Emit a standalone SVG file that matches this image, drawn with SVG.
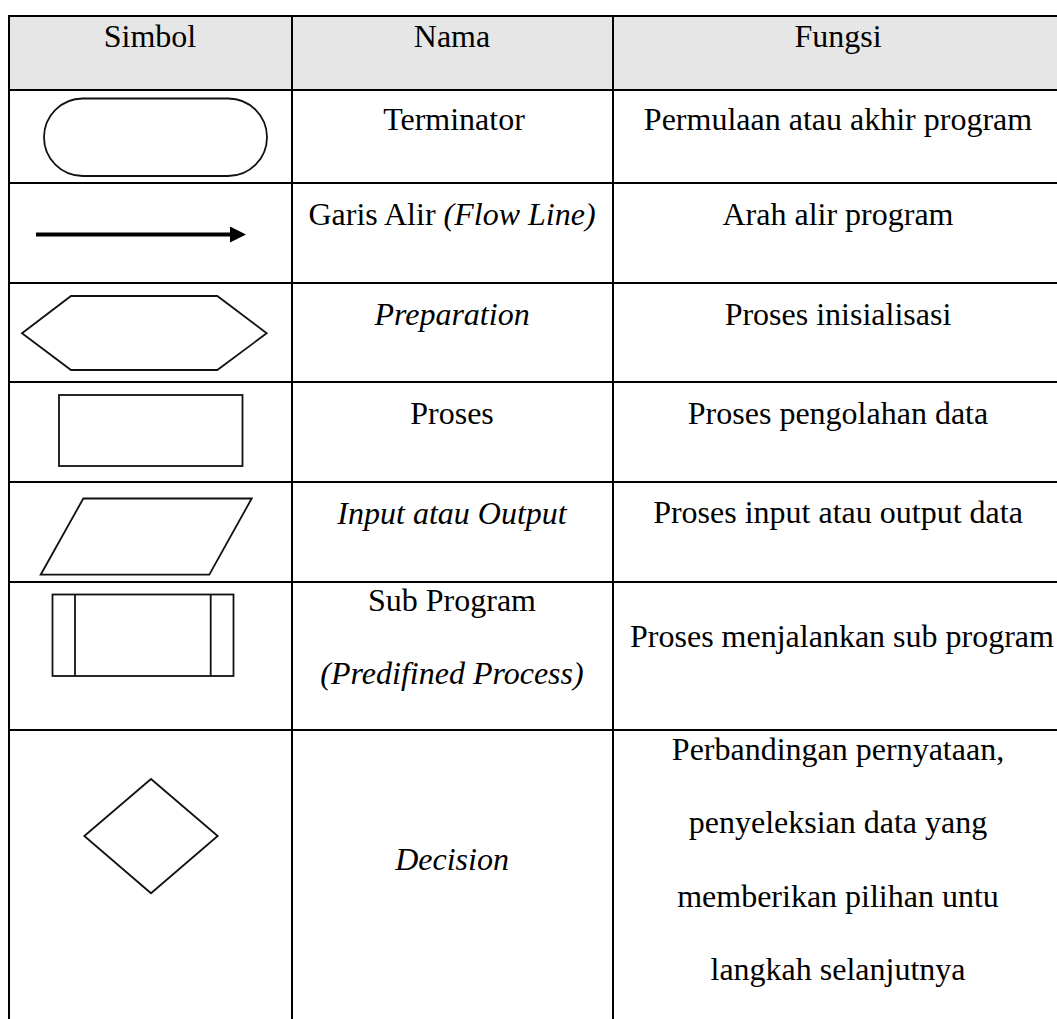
<svg xmlns="http://www.w3.org/2000/svg" width="1057" height="1019" viewBox="0 0 1057 1019">
  <defs>
    <style>
      .grid { stroke: #000; stroke-width: 2; fill: none; }
      .sym { stroke: #111; stroke-width: 1.8; fill: #fff; stroke-linejoin: miter; }
      .txt { font-family: "Liberation Serif", "Times New Roman", serif; font-size: 32px; fill: #000; text-anchor: middle; }
      .it { font-style: italic; }
    </style>
    <marker id="arrowhead" viewBox="0 0 16 16" refX="0" refY="8" markerUnits="userSpaceOnUse" markerWidth="16" markerHeight="16" orient="auto">
      <path d="M0,0 L16,8 L0,16 Z" fill="#000"/>
    </marker>
  </defs>

  <rect width="1057" height="1019" fill="#fff"/>

  <!-- header band -->
  <rect x="9" y="16" width="1060" height="74" fill="#e6e6e6"/>

  <!-- table rules -->
  <g id="table-grid" class="grid">
    <line x1="9" y1="16" x2="1060" y2="16"/>
    <line x1="9" y1="90" x2="1060" y2="90"/>
    <line x1="9" y1="183" x2="1060" y2="183"/>
    <line x1="9" y1="283" x2="1060" y2="283"/>
    <line x1="9" y1="382" x2="1060" y2="382"/>
    <line x1="9" y1="482" x2="1060" y2="482"/>
    <line x1="9" y1="582" x2="1060" y2="582"/>
    <line x1="9" y1="730" x2="1060" y2="730"/>
    <line x1="9" y1="15" x2="9" y2="1020"/>
    <line x1="292" y1="15" x2="292" y2="1020"/>
    <line x1="613" y1="15" x2="613" y2="1020"/>
  </g>

  <!-- header -->
  <g id="header">
    <text class="txt" x="150" y="47">Simbol</text>
    <text class="txt" x="452" y="47">Nama</text>
    <text class="txt" x="838" y="47">Fungsi</text>
  </g>

  <!-- terminator -->
  <g id="row-terminator">
    <rect class="sym" x="44" y="98.5" width="223" height="77.5" rx="38.75" ry="38.75" stroke-width="1.4"/>
    <text class="txt" x="454" y="130">Terminator</text>
    <text class="txt" x="838" y="130">Permulaan atau akhir program</text>
  </g>

  <!-- flow line -->
  <g id="row-flowline">
    <g id="connectors">
      <line x1="36" y1="234.5" x2="230" y2="234.5" stroke="#000" stroke-width="4" marker-end="url(#arrowhead)"/>
    </g>
    <text class="txt" x="452" y="225">Garis Alir <tspan class="it">(Flow Line)</tspan></text>
    <text class="txt" x="838" y="225">Arah alir program</text>
  </g>

  <!-- preparation -->
  <g id="row-preparation">
    <polygon class="sym" points="22,333.3 71,296 217.3,296 266.7,333.3 217.3,370 71,370"/>
    <text class="txt it" x="452" y="325">Preparation</text>
    <text class="txt" x="838" y="325">Proses inisialisasi</text>
  </g>

  <!-- process -->
  <g id="row-process">
    <rect class="sym" x="59" y="395" width="183.5" height="71"/>
    <text class="txt" x="452" y="424">Proses</text>
    <text class="txt" x="838" y="424">Proses pengolahan data</text>
  </g>

  <!-- input / output -->
  <g id="row-io">
    <polygon class="sym" points="83.3,498.5 251.7,498.5 209.3,574.7 40.7,574.7"/>
    <text class="txt it" x="452" y="524">Input atau Output</text>
    <text class="txt" x="838" y="523">Proses input atau output data</text>
  </g>

  <!-- predefined process -->
  <g id="row-subprogram">
    <rect class="sym" x="52.5" y="594.5" width="181" height="81.5"/>
    <line class="sym" x1="75" y1="594.5" x2="75" y2="676"/>
    <line class="sym" x1="210.7" y1="594.5" x2="210.7" y2="676"/>
    <text class="txt" x="452" y="611">Sub Program</text>
    <text class="txt it" x="452" y="684">(Predifined Process)</text>
    <text class="txt" x="842" y="647">Proses menjalankan sub program</text>
  </g>

  <!-- decision -->
  <g id="row-decision">
    <polygon class="sym" points="151,779 217.7,836 151,893.3 84.3,836"/>
    <text class="txt it" x="452" y="870">Decision</text>
    <text class="txt" x="838" y="760">Perbandingan pernyataan,</text>
    <text class="txt" x="838" y="833">penyeleksian data yang</text>
    <text class="txt" x="838" y="907">memberikan pilihan untu</text>
    <text class="txt" x="838" y="980">langkah selanjutnya</text>
  </g>
</svg>
